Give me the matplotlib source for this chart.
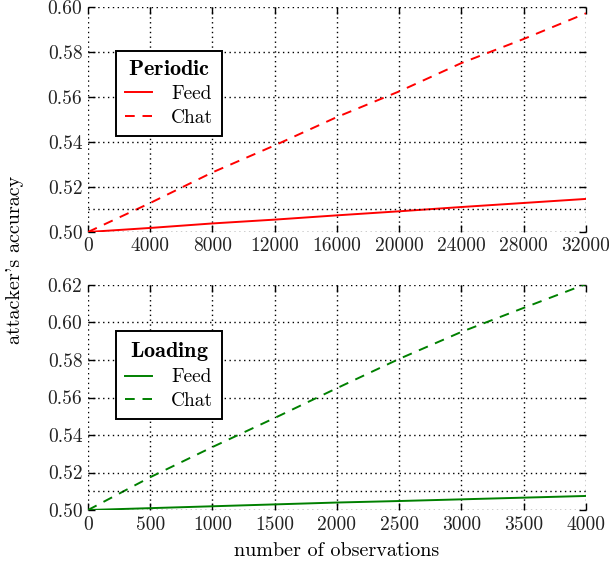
import matplotlib
matplotlib.use('Agg')
import matplotlib.pyplot as plt
import numpy as np

plt.rcParams['font.family'] = 'serif'
plt.rcParams['font.serif'] = ['cmr10']
plt.rcParams['mathtext.fontset'] = 'cm'
plt.rcParams['axes.formatter.use_mathtext'] = True
plt.rcParams['font.size'] = 14

# periodic attack, observations vs accuracy
periodic_obs = [0, 4000, 8000, 12000, 16000, 20000, 24000, 28000, 32000]
periodic_feed = [0.500, 0.5018, 0.5038, 0.5055, 0.5074, 0.5092, 0.5111, 0.5129, 0.5147]
periodic_chat = [0.500, 0.5129, 0.5265, 0.5385, 0.5511, 0.5625, 0.5751, 0.5858, 0.5972]

# loading attack
loading_obs = [0, 500, 1000, 1500, 2000, 2500, 3000, 3500, 4000]
loading_feed = [0.500, 0.5010, 0.5020, 0.5030, 0.5040, 0.5048, 0.5057, 0.5066, 0.5075]
loading_chat = [0.500, 0.5175, 0.5336, 0.5491, 0.5650, 0.5806, 0.5950, 0.6078, 0.6205]

fig = plt.figure(figsize=(6.09, 5.65), dpi=100)
ax1 = fig.add_axes([0.1445, 0.5894, 0.8177, 0.3982])
ax2 = fig.add_axes([0.1445, 0.0973, 0.8177, 0.3983])


def style(ax, xticks, yticks, xlim, ylim):
    ax.set_xlim(xlim)
    ax.set_ylim(ylim)
    ax.set_xticks(xticks)
    ax.set_yticks(yticks)
    ax.set_xticklabels([str(t) for t in xticks])
    ax.set_yticklabels(['%.2f' % t for t in yticks])
    for s in ax.spines.values():
        s.set_visible(False)
    ax.grid(True, color='black', linestyle=(0, (1, 2.5)), linewidth=1)
    ax.axhline(0.51, color='black', linestyle=(0, (1, 2.5)), linewidth=1)
    ax.tick_params(direction='in', top=True, right=True, length=5, width=1,
                   labelsize=14, colors='black', pad=4)
    for lab in ax.get_xticklabels() + ax.get_yticklabels():
        lab.set_color('#222222')


def add_legend(ax, title, top):
    leg = ax.legend(title=title, loc='upper left', bbox_to_anchor=(0.056, top),
                    borderaxespad=0, fancybox=False, edgecolor='black',
                    framealpha=1, handlelength=1.4, borderpad=0.45,
                    labelspacing=0.3, fontsize=14, handletextpad=1.0)
    leg.get_frame().set_linewidth(1.4)
    leg.get_title().set_fontsize(16)
    return leg


ax1.plot(periodic_obs, periodic_feed, color='red', lw=1.4, label='Feed')
ax1.plot(periodic_obs, periodic_chat, color='red', lw=1.4, dashes=(5, 4), label='Chat')
style(ax1, list(range(0, 32001, 4000)), [0.50, 0.52, 0.54, 0.56, 0.58, 0.60],
      (0, 32000), (0.50, 0.60))
add_legend(ax1, r'$\mathbf{Periodic}$', 0.804)

ax2.plot(loading_obs, loading_feed, color='green', lw=1.4, label='Feed')
ax2.plot(loading_obs, loading_chat, color='green', lw=1.4, dashes=(5, 4), label='Chat')
style(ax2, list(range(0, 4001, 500)), [0.50, 0.52, 0.54, 0.56, 0.58, 0.60, 0.62],
      (0, 4000), (0.50, 0.62))
add_legend(ax2, r'$\mathbf{Loading}$', 0.796)

ax2.set_xlabel('number of observations', fontsize=14.5, labelpad=6)
fig.text(0.025, 0.54, "attacker's accuracy", rotation=90, ha='center', va='center',
         fontsize=14.5)

fig.savefig('out.png', dpi=100)
